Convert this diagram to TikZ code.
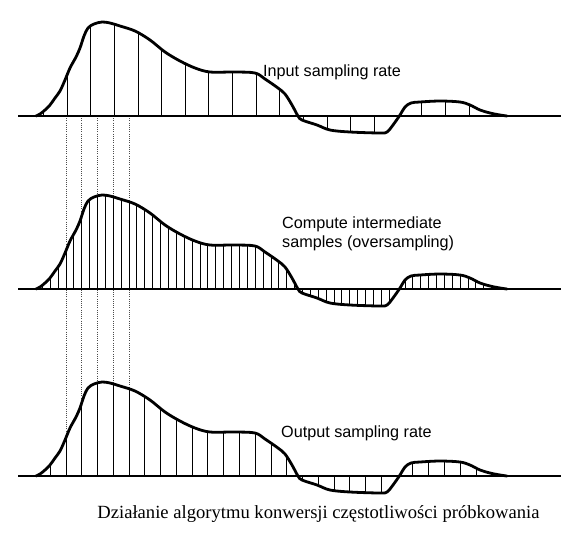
\documentclass[tikz,border=0pt]{standalone}
\usepackage{fontspec}
\setmainfont{Liberation Sans}
\newfontfamily\capfont{Liberation Serif}
\tikzset{
  sigcurve/.style={line width=2.8pt, line join=round, line cap=round},
  axisline/.style={line width=1.3pt},
  sampleline/.style={line width=0.9pt},
  guideline/.style={line width=0.6pt, gray!60!black, dash pattern=on 0.7pt off 1.5pt},
  lbl/.style={font=\fontsize{16.2}{19}\selectfont, anchor=west, inner sep=0pt, align=left},
  captext/.style={font=\capfont\fontsize{18.6}{22}\selectfont, inner sep=0pt}
}
\newcommand\sigpts{(36,0) (40,2) (45,6) (50,11) (55,18) (60,25) (65,36) (70,48) (76,59) (80,68) (84,80) (88,88) (94,92) (102,94) (110,93) (120,90) (135,85) (150,76) (165,64) (180,55) (195,48) (210,44) (235,44) (255,43) (265,37) (278,28) (285,22) (292,11) (298,0) (302,-4) (317,-9) (330,-14) (350,-16) (380,-17) (387,-16) (393,-9) (400,1) (405,9) (411,13) (420,14) (440,15) (460,14) (470,11) (480,6) (490,3) (500,1) (507,0)}
\begin{document}
\begin{tikzpicture}[x=1pt,y=1pt]
\useasboundingbox (0,0) rectangle (569,-552);
% dotted guides
\foreach \i in {0,...,4} {
  \coordinate (gt\i) at (66+\i*15.77,-116);
  \coordinate (gb\i) at (66+\i*15.77,-476);
  \draw[guideline] (gt\i) -- (gb\i);
}
\foreach \b/\dx/\xo/\nm in {116/23.65/67/top, 289/7.883/66/mid, 476/15.77/66/bot} {
  \begin{scope}[yshift=-\b pt]
    \begin{scope}
      \clip plot[smooth, tension=0.55] coordinates {\sigpts} -- cycle;
      \foreach \k in {-4,...,60} {
        \draw[sampleline] ({\xo+\k*\dx},-40) -- ({\xo+\k*\dx},110);
      }
    \end{scope}
    \coordinate (\nm L) at (18,0);
    \coordinate (\nm R) at (561,0);
    \draw[axisline] (\nm L) -- (\nm R);
    \draw[sigcurve] plot[smooth, tension=0.55] coordinates {\sigpts};
  \end{scope}
}
\node[lbl] (inlbl) at (263,-72) {Input sampling rate};
\node[lbl] (midlbl) at (282,-234) {Compute intermediate\\samples (oversampling)};
\node[lbl] (outlbl) at (281,-433) {Output sampling rate};
\node[captext] (caption) at (318.5,-514) {Działanie algorytmu konwersji częstotliwości próbkowania};
\end{tikzpicture}
\end{document}
